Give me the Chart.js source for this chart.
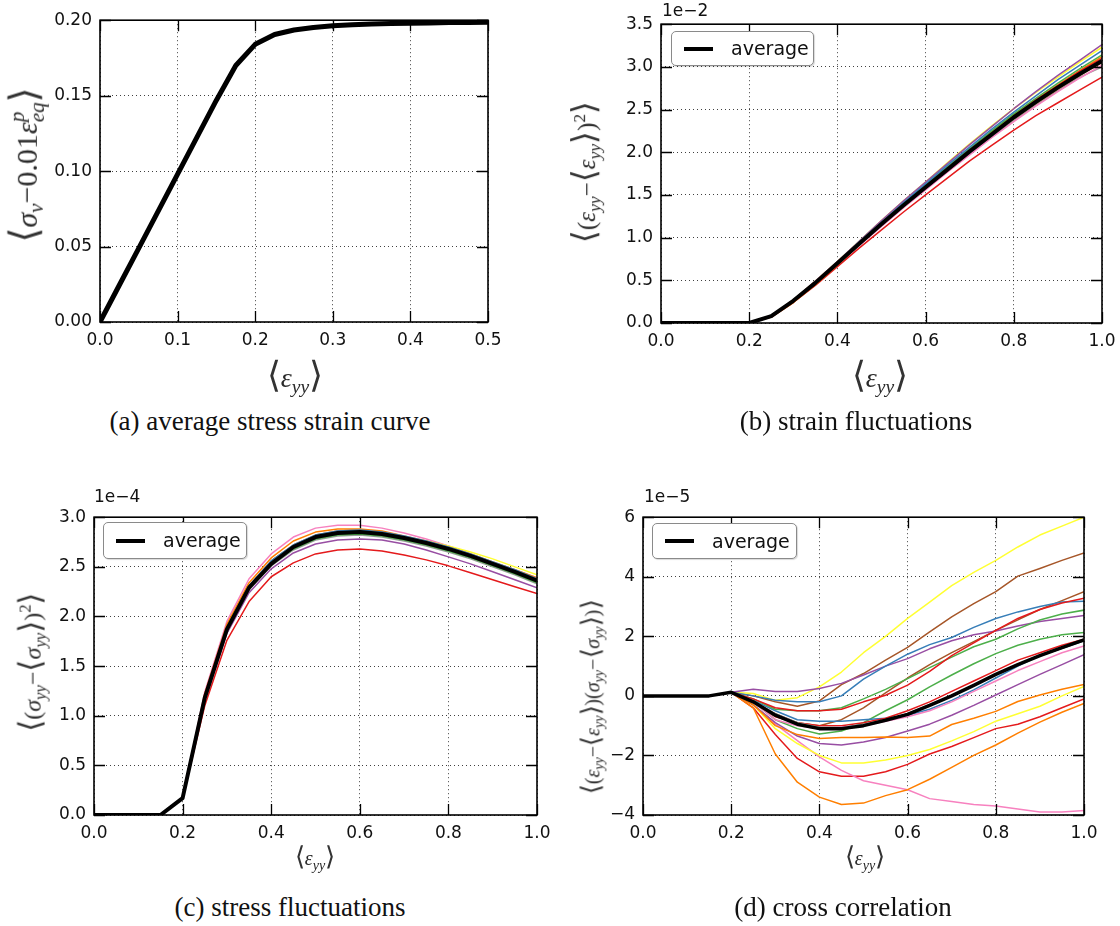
<!DOCTYPE html>
<html><head><meta charset="utf-8">
<script src="https://cdn.jsdelivr.net/npm/chart.js@4/dist/chart.umd.min.js"></script>
<style>
body{margin:0;background:#fff;width:1120px;height:926px;position:relative;overflow:hidden;font-family:"DejaVu Sans",sans-serif;}
canvas{position:absolute;}
.abs{position:absolute;white-space:nowrap;line-height:1;}
.c{transform:translate(-50%,-50%);}
.r{transform:translate(-50%,-50%) rotate(-90deg);}
.m{font-family:"Liberation Serif","DejaVu Serif",serif;color:#2a2a2a;}
.m i{font-style:italic;}
.m sub{font-size:0.7em;vertical-align:-0.3em;}
.m sup{font-size:0.7em;vertical-align:0.6em;}
.br{font-family:"DejaVu Sans",sans-serif;font-weight:300;font-size:1.3em;color:#333;}
.ss{display:inline-block;vertical-align:-0.35em;font-size:0.7em;line-height:0.95;font-style:italic;}
.cap{font-family:"Liberation Serif",serif;font-size:27px;color:#111;}
.exp{font-size:17px;color:#111;}
.leg{position:absolute;background:#fff;border:1.5px solid #8a8a8a;border-radius:5px;box-shadow:1px 1px 1px rgba(0,0,0,0.15);box-sizing:border-box;}
.leg .ln{position:absolute;left:12px;height:4px;width:29px;background:#000;}
.leg .tx{position:absolute;left:59px;font-size:19px;color:#111;line-height:1;}
</style></head><body>
<canvas id="ca"></canvas><canvas id="cb"></canvas><canvas id="cc"></canvas><canvas id="cd"></canvas>

<div class="abs m c" style="left:295px;top:377px;font-size:28px;"><span class="br">⟨</span><i>ε</i><sub><i>yy</i></sub><span class="br">⟩</span></div>
<div class="abs m r" style="left:26px;top:165px;font-size:30px;"><span class="br">⟨</span><i>σ</i><sub><i>v</i></sub>−0.01<i>ε</i><span class="ss">p<br>eq</span><span class="br">⟩</span></div>
<div class="abs cap c" style="left:270px;top:421px;">(a) average stress strain curve</div>

<div class="abs m c" style="left:880px;top:377px;font-size:28px;"><span class="br">⟨</span><i>ε</i><sub><i>yy</i></sub><span class="br">⟩</span></div>
<div class="abs m r" style="left:586px;top:172px;font-size:25px;"><span class="br">⟨</span>(<i>ε</i><sub><i>yy</i></sub>−<span class="br">⟨</span><i>ε</i><sub><i>yy</i></sub><span class="br">⟩</span>)<sup>2</sup><span class="br">⟩</span></div>
<div class="abs cap c" style="left:856px;top:421px;">(b) strain fluctuations</div>
<div class="abs exp" style="left:662px;top:2px;">1e−2</div>

<div class="abs m c" style="left:315px;top:858px;font-size:20px;"><span class="br">⟨</span><i>ε</i><sub><i>yy</i></sub><span class="br">⟩</span></div>
<div class="abs m r" style="left:32px;top:662px;font-size:24px;"><span class="br">⟨</span>(<i>σ</i><sub><i>yy</i></sub>−<span class="br">⟨</span><i>σ</i><sub><i>yy</i></sub><span class="br">⟩</span>)<sup>2</sup><span class="br">⟩</span></div>
<div class="abs cap c" style="left:290px;top:907px;">(c) stress fluctuations</div>
<div class="abs exp" style="left:94px;top:488px;">1e−4</div>

<div class="abs m c" style="left:865px;top:858px;font-size:20px;"><span class="br">⟨</span><i>ε</i><sub><i>yy</i></sub><span class="br">⟩</span></div>
<div class="abs m r" style="left:592px;top:697px;font-size:20px;"><span class="br">⟨</span>(<i>ε</i><sub><i>yy</i></sub>−<span class="br">⟨</span><i>ε</i><sub><i>yy</i></sub><span class="br">⟩</span>)(<i>σ</i><sub><i>yy</i></sub>−<span class="br">⟨</span><i>σ</i><sub><i>yy</i></sub><span class="br">⟩</span>)<span class="br">⟩</span></div>
<div class="abs cap c" style="left:843px;top:907px;">(d) cross correlation</div>
<div class="abs exp" style="left:644px;top:488px;">1e−5</div>

<div class="leg" style="left:671px;top:31px;width:143px;height:35px;"><div class="ln" style="top:15px;"></div><div class="tx" style="top:7px;">average</div></div>
<div class="leg" style="left:103px;top:522px;width:144px;height:37px;"><div class="ln" style="top:16px;"></div><div class="tx" style="top:8px;">average</div></div>
<div class="leg" style="left:652px;top:523px;width:145px;height:36px;"><div class="ln" style="top:15px;"></div><div class="tx" style="top:8px;">average</div></div>

<script>
// ---------- colours (ColorBrewer Set1) ----------
const RED='#e41a1c', BLUE='#377eb8', GREEN='#4daf4a', PURPLE='#984ea3', ORANGE='#ff7f00',
      YELLOW='#ffff33', BROWN='#a65628', PINK='#f781bf', GRAY='#999999';

// ---------- panel (a) ----------
const strainA = [0,0.025,0.05,0.075,0.1,0.125,0.15,0.175,0.2,0.225,0.25,0.275,0.3,0.325,0.35,0.375,0.4,0.425,0.45,0.475,0.5];
const stressA = [0,0.0245,0.049,0.0735,0.098,0.1225,0.147,0.170,0.184,0.1905,0.1935,0.1952,0.1963,0.197,0.1975,0.1978,0.198,0.1982,0.1984,0.1985,0.1986];
const ticksAx = ['0.0','0.1','0.2','0.3','0.4','0.5'];
const ticksAy = ['0.00','0.05','0.10','0.15','0.20'];

// ---------- common strain axis for (b),(c),(d) ----------
const strain = [0,0.05,0.1,0.15,0.2,0.25,0.3,0.35,0.4,0.45,0.5,0.55,0.6,0.65,0.7,0.75,0.8,0.85,0.9,0.95,1.0];

// ---------- panel (b): strain fluctuations, units 1e-2 ----------
const bAverage = [0,0,0,0,0,0.08,0.26,0.47,0.70,0.93,1.16,1.38,1.59,1.80,2.01,2.21,2.41,2.59,2.76,2.92,3.07];
const bPurple  = [0,0,0,0,0,0.08,0.27,0.49,0.72,0.96,1.20,1.43,1.65,1.87,2.09,2.30,2.51,2.71,2.90,3.08,3.26];
const bYellow  = [0,0,0,0,0,0.08,0.27,0.49,0.72,0.96,1.20,1.43,1.65,1.88,2.10,2.31,2.51,2.70,2.88,3.06,3.23];
const bBlue    = [0,0,0,0,0,0.08,0.26,0.48,0.71,0.95,1.18,1.41,1.63,1.85,2.06,2.27,2.47,2.66,2.85,3.02,3.19];
const bGreen   = [0,0,0,0,0,0.08,0.26,0.48,0.71,0.94,1.17,1.40,1.62,1.83,2.04,2.25,2.45,2.63,2.81,2.98,3.14];
const bOrange  = [0,0,0,0,0,0.07,0.24,0.45,0.68,0.92,1.16,1.39,1.61,1.83,2.04,2.24,2.44,2.62,2.79,2.96,3.12];
const bRed     = [0,0,0,0,0,0.08,0.26,0.47,0.70,0.93,1.16,1.38,1.60,1.81,2.02,2.22,2.42,2.61,2.78,2.95,3.10];
const bBrown   = [0,0,0,0,0,0.08,0.26,0.47,0.70,0.93,1.15,1.37,1.58,1.79,2.00,2.20,2.39,2.57,2.74,2.90,3.05];
const bPink    = [0,0,0,0,0,0.08,0.25,0.46,0.69,0.91,1.13,1.35,1.56,1.77,1.97,2.17,2.36,2.54,2.71,2.87,3.02];
const bGray    = [0,0,0,0,0,0.08,0.25,0.46,0.69,0.92,1.14,1.36,1.57,1.78,1.98,2.18,2.37,2.55,2.72,2.88,3.00];
const bRedLow  = [0,0,0,0,0,0.07,0.24,0.44,0.66,0.88,1.09,1.30,1.50,1.70,1.90,2.08,2.26,2.43,2.58,2.73,2.88];
const ticksBy = ['0.0','0.5','1.0','1.5','2.0','2.5','3.0','3.5'];

// ---------- panel (c): stress fluctuations, units 1e-4 ----------
const cAverage = [0,0,0,0,0.17,1.18,1.87,2.29,2.53,2.70,2.80,2.84,2.85,2.83,2.79,2.74,2.68,2.61,2.53,2.45,2.36];
const cRed     = [0,0,0,0,0.17,1.10,1.76,2.15,2.40,2.54,2.63,2.67,2.68,2.66,2.62,2.57,2.51,2.44,2.37,2.30,2.23];
const cPurple  = [0,0,0,0,0.17,1.15,1.83,2.24,2.48,2.64,2.73,2.77,2.78,2.77,2.73,2.67,2.60,2.53,2.45,2.37,2.29];
const cPink    = [0,0,0,0,0.17,1.24,1.95,2.38,2.63,2.80,2.89,2.92,2.92,2.89,2.84,2.78,2.71,2.63,2.55,2.47,2.39];
const cOrange  = [0,0,0,0,0.17,1.22,1.92,2.34,2.59,2.76,2.85,2.88,2.88,2.86,2.81,2.76,2.70,2.63,2.55,2.47,2.39];
const cYellow  = [0,0,0,0,0.17,1.19,1.88,2.30,2.54,2.70,2.79,2.83,2.84,2.83,2.80,2.76,2.71,2.65,2.58,2.50,2.42];
const cBlue    = [0,0,0,0,0.17,1.20,1.89,2.31,2.56,2.72,2.82,2.86,2.87,2.85,2.81,2.76,2.70,2.63,2.55,2.47,2.38];
const cGreen   = [0,0,0,0,0.17,1.17,1.86,2.28,2.52,2.68,2.78,2.82,2.83,2.81,2.77,2.72,2.66,2.59,2.51,2.43,2.34];
const cBrown   = [0,0,0,0,0.17,1.19,1.89,2.31,2.56,2.72,2.82,2.86,2.87,2.85,2.80,2.75,2.68,2.61,2.53,2.44,2.35];
const cGray    = [0,0,0,0,0.17,1.18,1.86,2.27,2.51,2.67,2.77,2.81,2.82,2.80,2.76,2.71,2.65,2.58,2.50,2.42,2.33];
const ticksCy = ['0.0','0.5','1.0','1.5','2.0','2.5','3.0'];

// ---------- panel (d): cross correlation, units 1e-5 ----------
const dAverage = [0,0,0,0,0.12,-0.2,-0.65,-0.95,-1.1,-1.1,-1.0,-0.82,-0.62,-0.32,0.0,0.35,0.72,1.05,1.35,1.62,1.88];
const dYellow1 = [0,0,0,0,0.12,0.08,-0.15,-0.06,0.3,0.8,1.45,2.0,2.6,3.15,3.7,4.15,4.55,5.0,5.4,5.7,6.0];
const dBrown1  = [0,0,0,0,0.12,0.0,-0.2,-0.35,-0.17,0.38,0.75,1.2,1.63,2.15,2.65,3.1,3.5,4.02,4.28,4.55,4.8];
const dBlue1   = [0,0,0,0,0.12,0.0,-0.15,-0.2,-0.2,0.0,0.56,1.0,1.4,1.72,1.96,2.3,2.6,2.82,3.0,3.15,3.18];
const dPurple1 = [0,0,0,0,0.12,0.22,0.15,0.15,0.25,0.42,0.7,1.0,1.25,1.58,1.85,2.05,2.18,2.35,2.5,2.6,2.7];
const dRed1    = [0,0,0,0,0.12,-0.1,-0.4,-0.5,-0.5,-0.45,-0.2,0.02,0.36,0.82,1.35,1.78,2.2,2.6,2.9,3.12,3.28];
const dBrown2  = [0,0,0,0,0.12,-0.2,-0.6,-0.9,-1.0,-0.8,-0.4,0.1,0.6,1.05,1.45,1.82,2.2,2.55,2.9,3.2,3.5];
const dGreen1  = [0,0,0,0,0.12,-0.1,-0.45,-0.5,-0.5,-0.4,-0.1,0.22,0.58,0.95,1.3,1.65,1.9,2.25,2.55,2.75,2.88];
const dGreen2  = [0,0,0,0,0.12,-0.2,-0.8,-1.1,-1.28,-1.18,-0.9,-0.5,-0.13,0.3,0.7,1.08,1.42,1.7,1.9,2.05,2.13];
const dRed2    = [0,0,0,0,0.12,-0.2,-0.7,-0.9,-1.0,-1.0,-0.9,-0.75,-0.5,-0.2,0.15,0.5,0.85,1.2,1.45,1.7,1.9];
const dBlue2   = [0,0,0,0,0.12,-0.15,-0.5,-0.8,-0.85,-0.85,-0.8,-0.75,-0.65,-0.45,-0.15,0.2,0.6,1.0,1.35,1.6,1.85];
const dPink1   = [0,0,0,0,0.12,-0.2,-0.8,-1.0,-1.1,-1.05,-1.0,-0.85,-0.7,-0.5,-0.2,0.15,0.5,0.85,1.15,1.45,1.68];
const dPurple2 = [0,0,0,0,0.12,-0.3,-0.9,-1.35,-1.6,-1.65,-1.55,-1.4,-1.18,-0.95,-0.65,-0.32,0.03,0.38,0.72,1.05,1.38];
const dOrange1 = [0,0,0,0,0.12,-0.3,-1.0,-1.3,-1.43,-1.4,-1.4,-1.38,-1.4,-1.35,-0.96,-0.75,-0.52,-0.19,0.03,0.22,0.38];
const dYellow2 = [0,0,0,0,0.12,-0.3,-1.1,-1.6,-2.0,-2.25,-2.25,-2.15,-2.0,-1.8,-1.51,-1.2,-0.85,-0.6,-0.35,0.0,0.32];
const dRed3    = [0,0,0,0,0.12,-0.4,-1.3,-2.1,-2.55,-2.7,-2.7,-2.55,-2.3,-1.95,-1.7,-1.4,-1.1,-0.95,-0.7,-0.4,-0.1];
const dOrange2 = [0,0,0,0,0.12,-0.4,-1.95,-2.9,-3.4,-3.65,-3.6,-3.35,-3.15,-2.8,-2.4,-2.0,-1.65,-1.25,-0.88,-0.55,-0.25];
const dPink2   = [0,0,0,0,0.12,-0.3,-0.95,-1.5,-2.05,-2.5,-2.85,-3.0,-3.15,-3.45,-3.55,-3.65,-3.7,-3.8,-3.9,-3.9,-3.85];
const dGray    = [0,0,0,0,0.12,-0.2,-0.6,-0.9,-1.05,-1.05,-0.95,-0.8,-0.6,-0.3,0.0,0.35,0.7,1.05,1.35,1.6,1.85];
const ticksDy = ['−4','−2','0','2','4','6'];
const ticksX  = ['0.0','0.2','0.4','0.6','0.8','1.0'];

// ---------- helpers ----------
function pts(xs, ys){ return xs.map((x,i)=>({x:x, y:ys[i]})); }
function ds(label, xs, ys, color, width, order){
  return {label, data:pts(xs,ys), borderColor:color, backgroundColor:color, borderWidth:width,
          pointRadius:0, tension:0, fill:false, order:order, borderJoinStyle:'round', borderCapStyle:'butt'};
}
const framePlugin = {
  id:'frame',
  afterDraw(chart){
    const ctx = chart.ctx, a = chart.chartArea, x = chart.scales.x, y = chart.scales.y;
    const L = 11;
    ctx.save();
    ctx.strokeStyle = '#000';
    ctx.lineWidth = 1.3;
    ctx.beginPath();
    x.ticks.forEach(t=>{ const p = Math.round(x.getPixelForValue(t.value))+0.5;
      ctx.moveTo(p,a.bottom); ctx.lineTo(p,a.bottom-L); ctx.moveTo(p,a.top); ctx.lineTo(p,a.top+L); });
    y.ticks.forEach(t=>{ const p = Math.round(y.getPixelForValue(t.value))+0.5;
      ctx.moveTo(a.left,p); ctx.lineTo(a.left+L,p); ctx.moveTo(a.right,p); ctx.lineTo(a.right-L,p); });
    ctx.stroke();
    ctx.lineWidth = 1.6;
    ctx.strokeRect(a.left, a.top, a.right-a.left, a.bottom-a.top);
    ctx.restore();
  }
};
function makeChart(id, box, datasets, xr, yr, xLabels, yLabels){
  const padL=75, padT=15, padR=30, padB=35;
  const W = (box.R-box.L)+padL+padR, H = (box.B-box.T)+padT+padB;
  const cv = document.getElementById(id);
  cv.width = W; cv.height = H;
  cv.style.width = W+'px'; cv.style.height = H+'px';
  cv.style.left = (box.L-padL)+'px'; cv.style.top = (box.T-padT)+'px';
  const font = {family:'"DejaVu Sans"', size:17};
  const grid = {color:'rgba(0,0,0,0.75)', lineWidth:1, drawTicks:false};
  return new Chart(cv, {
    type:'line',
    data:{datasets},
    plugins:[framePlugin],
    options:{
      responsive:false, maintainAspectRatio:false, animation:false, devicePixelRatio:1,
      layout:{padding:{top:padT, right:padR, left:0, bottom:0}},
      plugins:{legend:{display:false}, tooltip:{enabled:false}},
      elements:{point:{radius:0}},
      scales:{
        x:{type:'linear', min:xr[0], max:xr[1],
           afterFit(s){ s.height = padB; },
           grid, border:{display:false, dash:[1,3]},
           ticks:{stepSize:xr[2], padding:8, color:'#111', font, maxRotation:0, autoSkip:false,
                  callback:(v,i)=>xLabels[i]}},
        y:{type:'linear', min:yr[0], max:yr[1],
           afterFit(s){ s.width = padL; },
           grid, border:{display:false, dash:[1,3]},
           ticks:{stepSize:yr[2], padding:8, color:'#111', font, autoSkip:false,
                  callback:(v,i)=>yLabels[i]}}
      }
    }
  });
}

// ---------- build charts ----------
makeChart('ca', {L:100,T:17,R:488,B:322},
  [ds('average', strainA, stressA, '#000', 5, 0)],
  [0,0.5,0.1], [0,0.2,0.05], ticksAx, ticksAy);

makeChart('cb', {L:661,T:21,R:1102,B:323},
  [ds('average', strain, bAverage, '#000', 4, 0),
   ds('1', strain, bRed, RED, 1.5, 1),
   ds('2', strain, bBlue, BLUE, 1.5, 1),
   ds('3', strain, bGreen, GREEN, 1.5, 1),
   ds('4', strain, bPurple, PURPLE, 1.5, 1),
   ds('5', strain, bOrange, ORANGE, 1.5, 1),
   ds('6', strain, bYellow, YELLOW, 1.5, 1),
   ds('7', strain, bBrown, BROWN, 1.5, 1),
   ds('8', strain, bPink, PINK, 1.5, 1),
   ds('9', strain, bGray, GRAY, 1.5, 1),
   ds('10', strain, bRedLow, RED, 1.5, 1)],
  [0,1,0.2], [0,3.5,0.5], ticksX, ticksBy);

makeChart('cc', {L:94,T:514,R:537,B:815},
  [ds('average', strain, cAverage, '#000', 4, 0),
   ds('1', strain, cRed, RED, 1.5, 1),
   ds('2', strain, cBlue, BLUE, 1.5, 1),
   ds('3', strain, cGreen, GREEN, 1.5, 1),
   ds('4', strain, cPurple, PURPLE, 1.5, 1),
   ds('5', strain, cOrange, ORANGE, 1.5, 1),
   ds('6', strain, cYellow, YELLOW, 1.5, 1),
   ds('7', strain, cBrown, BROWN, 1.5, 1),
   ds('8', strain, cPink, PINK, 1.5, 1),
   ds('9', strain, cGray, GRAY, 1.5, 1)],
  [0,1,0.2], [0,3.0,0.5], ticksX, ticksCy);

makeChart('cd', {L:643,T:514,R:1084,B:815},
  [ds('average', strain, dAverage, '#000', 3.5, 0),
   ds('1', strain, dRed1, RED, 1.5, 1),
   ds('2', strain, dBlue1, BLUE, 1.5, 1),
   ds('3', strain, dGreen1, GREEN, 1.5, 1),
   ds('4', strain, dPurple1, PURPLE, 1.5, 1),
   ds('5', strain, dOrange1, ORANGE, 1.5, 1),
   ds('6', strain, dYellow1, YELLOW, 1.5, 1),
   ds('7', strain, dBrown1, BROWN, 1.5, 1),
   ds('8', strain, dPink1, PINK, 1.5, 1),
   ds('9', strain, dGray, GRAY, 1.5, 1),
   ds('10', strain, dRed2, RED, 1.5, 1),
   ds('11', strain, dBlue2, BLUE, 1.5, 1),
   ds('12', strain, dGreen2, GREEN, 1.5, 1),
   ds('13', strain, dPurple2, PURPLE, 1.5, 1),
   ds('14', strain, dOrange2, ORANGE, 1.5, 1),
   ds('15', strain, dYellow2, YELLOW, 1.5, 1),
   ds('16', strain, dBrown2, BROWN, 1.5, 1),
   ds('17', strain, dPink2, PINK, 1.5, 1),
   ds('18', strain, dRed3, RED, 1.5, 1)],
  [0,1,0.2], [-4,6,2], ticksX, ticksDy);
</script>
</body></html>
